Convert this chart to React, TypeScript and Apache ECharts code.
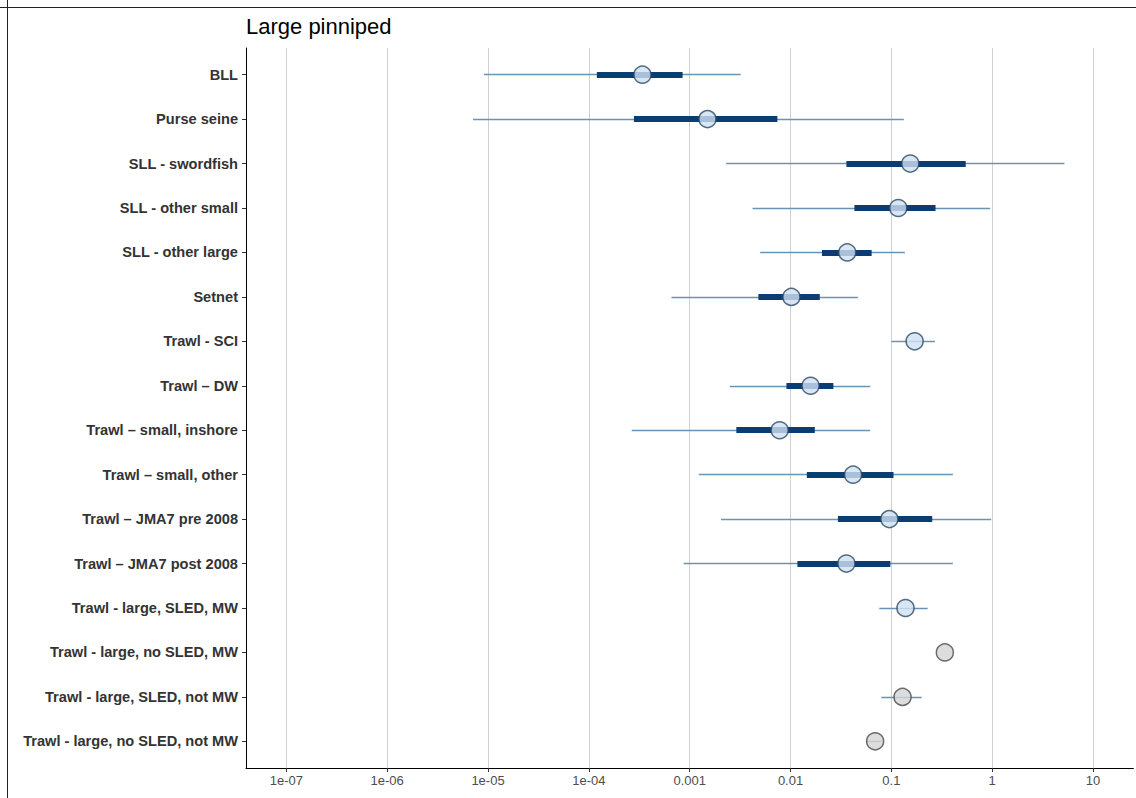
import React, { useEffect, useRef } from "react";
import * as echarts from "echarts";

const categories = [
  "BLL",
  "Purse seine",
  "SLL - swordfish",
  "SLL - other small",
  "SLL - other large",
  "Setnet",
  "Trawl - SCI",
  "Trawl – DW",
  "Trawl – small, inshore",
  "Trawl – small, other",
  "Trawl – JMA7 pre 2008",
  "Trawl – JMA7 post 2008",
  "Trawl - large, SLED, MW",
  "Trawl - large, no SLED, MW",
  "Trawl - large, SLED, not MW",
  "Trawl - large, no SLED, not MW",
];

const pointEst = [3.4e-4, 1.5e-3, 0.154, 0.117, 0.0365, 0.0102, 0.17, 0.0158, 0.0078, 0.0417, 0.0955, 0.0358, 0.138, 0.339, 0.129, 0.069];
const innerLo: (number | null)[] = [1.2e-4, 2.8e-4, 0.0358, 0.043, 0.0205, 0.0048, null, 0.0091, 0.0029, 0.0145, 0.0295, 0.0117, null, null, null, null];
const innerHi: (number | null)[] = [8.5e-4, 7.4e-3, 0.546, 0.274, 0.0637, 0.0195, null, 0.0266, 0.0174, 0.105, 0.254, 0.0977, null, null, null, null];
const outerLo: (number | null)[] = [9.1e-6, 7.1e-6, 0.0023, 0.0042, 0.005, 6.6e-4, 0.1, 0.0025, 2.66e-4, 0.00123, 0.00204, 8.7e-4, 0.0759, null, 0.0794, 0.056];
const outerHi: (number | null)[] = [3.2e-3, 0.133, 5.2, 0.955, 0.136, 0.0465, 0.27, 0.0617, 0.0617, 0.407, 0.977, 0.407, 0.229, null, 0.2, 0.08];
const fillGroup = ["blue", "blue", "blue", "blue", "blue", "blue", "blue", "blue", "blue", "blue", "blue", "blue", "blue", "grey", "grey", "grey"];

const tickValues = [1e-7, 1e-6, 1e-5, 1e-4, 1e-3, 1e-2, 0.1, 1, 10];
const tickLabels = ["1e-07", "1e-06", "1e-05", "1e-04", "0.001", "0.01", "0.1", "1", "10"];

const FONT = "'Liberation Sans', Arial, Helvetica, sans-serif";

export default function App() {
  const ref = useRef<HTMLDivElement>(null);

  useEffect(() => {
    if (!ref.current) return;
    const chart = echarts.init(ref.current, null, { renderer: "svg" });
    const lg = (v: number) => Math.log10(v);
    const tickLogs = tickValues.map((v) => Math.round(lg(v)));
    const catIdx = categories.map((_, i) => i);

    const outerData: any[] = [];
    const innerData: any[] = [];
    categories.forEach((_, i) => {
      const ol = outerLo[i], oh = outerHi[i];
      if (ol != null && oh != null) outerData.push({ coords: [[lg(ol), i], [lg(oh), i]] });
      const il = innerLo[i], ih = innerHi[i];
      if (il != null && ih != null) innerData.push({ coords: [[lg(il), i], [lg(ih), i]] });
    });

    const pointData = pointEst.map((v, i) => ({
      value: [lg(v), i],
      itemStyle:
        fillGroup[i] === "blue"
          ? { color: "#cfe1f2", borderColor: "#2c4862", borderWidth: 1.5 }
          : { color: "#d4d4d4", borderColor: "#4a4a4a", borderWidth: 1.5 },
    }));

    chart.setOption({
      animation: false,
      textStyle: { fontFamily: FONT },
      title: {
        text: "Large pinniped",
        left: 246,
        top: 15,
        padding: 0,
        textStyle: { fontSize: 22, fontWeight: "normal", color: "#000", fontFamily: FONT },
      },
      graphic: [
        { type: "line", shape: { x1: 0, y1: 7.5, x2: 1136, y2: 7.5 }, style: { stroke: "#222", lineWidth: 1 } },
        { type: "line", shape: { x1: 7.5, y1: 0, x2: 7.5, y2: 798 }, style: { stroke: "#222", lineWidth: 1 } },
      ],
      grid: { left: 246, right: 2.6, top: 48, bottom: 30, containLabel: false },
      xAxis: {
        type: "value",
        min: -7.4,
        max: 1.4,
        axisLine: { show: true, onZero: false, lineStyle: { color: "#000", width: 1 } },
        axisTick: { show: true, length: 4, customValues: tickLogs, lineStyle: { color: "#333" } },
        axisLabel: {
          customValues: tickLogs,
          formatter: (v: number) => tickLabels[Math.round(v) + 7],
          color: "#4d4d4d",
          fontSize: 13,
          margin: 6,
          fontFamily: FONT,
        },
        splitLine: { show: true, lineStyle: { color: "#d0d0d0", width: 1 } },
      },
      yAxis: {
        type: "value",
        inverse: true,
        min: -0.6,
        max: 15.6,
        axisLine: { show: true, onZero: false, lineStyle: { color: "#000", width: 1 } },
        axisTick: { show: true, length: 4, customValues: catIdx, lineStyle: { color: "#333" } },
        axisLabel: {
          customValues: catIdx,
          formatter: (v: number) => categories[Math.round(v)],
          color: "#333",
          fontSize: 14.6,
          fontWeight: "bold",
          margin: 8,
          fontFamily: FONT,
        },
        splitLine: { show: false },
      },
      series: [
        {
          type: "lines",
          coordinateSystem: "cartesian2d",
          data: outerData,
          lineStyle: { color: "#6a94b4", width: 1.4, opacity: 1 },
          z: 1,
        },
        {
          type: "lines",
          coordinateSystem: "cartesian2d",
          data: innerData,
          lineStyle: { color: "#0b3d72", width: 6, opacity: 1, cap: "butt" },
          z: 2,
        },
        {
          type: "scatter",
          data: pointData,
          symbol: "circle",
          symbolSize: 17,
          z: 3,
        },
      ],
    });

    return () => chart.dispose();
  }, []);

  return (
    <div
      ref={ref}
      style={{ position: "absolute", left: 0, top: 0, width: 1136, height: 798, background: "#fff" }}
    />
  );
}
